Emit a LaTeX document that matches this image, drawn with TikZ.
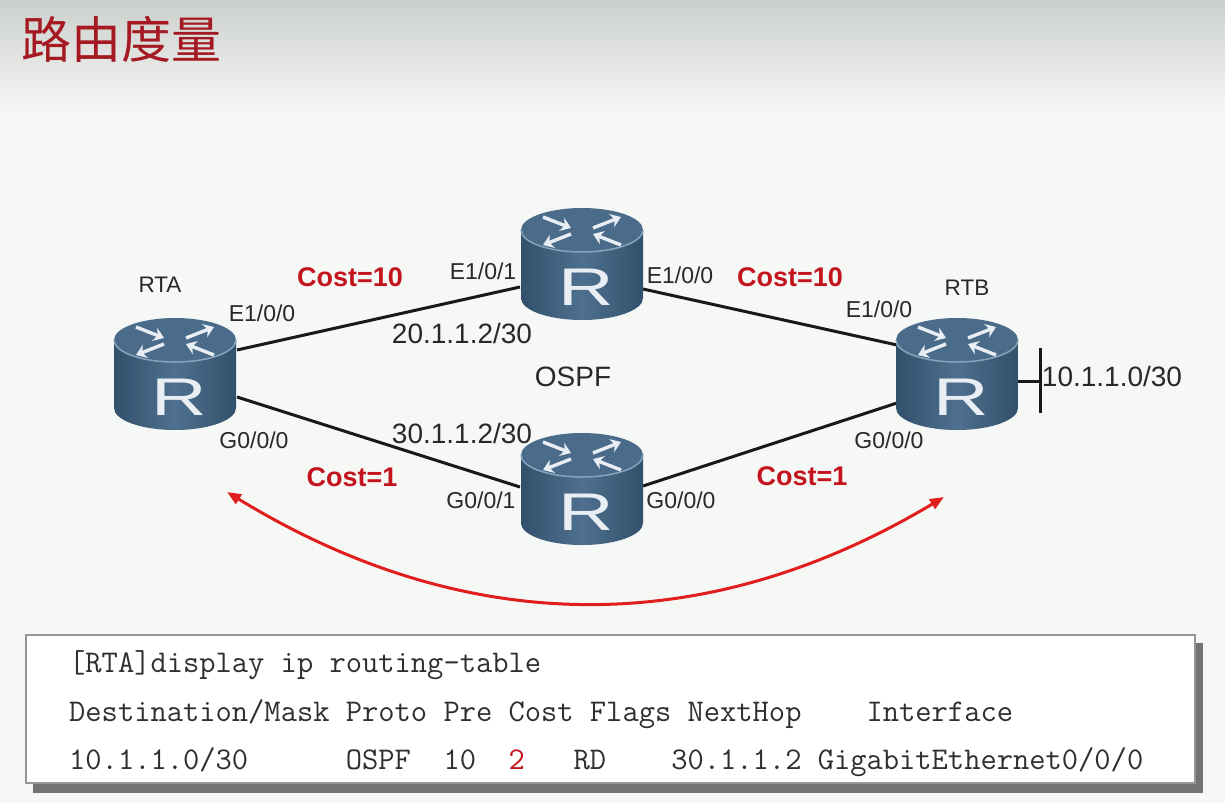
\documentclass[tikz,border=0pt]{standalone}
\usepackage{fontspec}
\setmainfont{Liberation Sans}
\newfontfamily\cjk{Noto Sans CJK SC}
\usetikzlibrary{arrows.meta}
\definecolor{bg}{RGB}{246,248,245}
\definecolor{bgtop}{RGB}{204,208,205}
\definecolor{titlered}{RGB}{165,25,35}
\definecolor{costred}{RGB}{195,20,30}
\definecolor{txt}{RGB}{40,40,40}
\definecolor{rdark}{RGB}{50,80,108}
\definecolor{rmid}{RGB}{78,112,142}
\definecolor{rtop}{RGB}{74,108,138}
\definecolor{rrim}{RGB}{135,163,188}
\definecolor{rwhite}{RGB}{232,238,244}
\definecolor{arrred}{RGB}{225,30,30}
\definecolor{shadowgray}{RGB}{115,115,115}
\definecolor{boxborder}{RGB}{150,150,150}
\definecolor{mono}{RGB}{50,45,50}
\tikzset{
  lbl/.style={inner sep=0, text=txt, font=\fontsize{23}{23}\selectfont},
  hostlbl/.style={inner sep=0, text=txt, font=\fontsize{22.5}{22.5}\selectfont},
  costlbl/.style={inner sep=0, text=costred, font=\fontsize{27}{27}\selectfont\bfseries},
  iplbl/.style={inner sep=0, text=txt, font=\fontsize{28}{28}\selectfont},
  link/.style={line width=3, black!90},
  tline/.style={anchor=base west, inner sep=0, text=mono, font=\ttfamily\fontsize{31.6}{31.6}\selectfont},
  rletter/.style={inner sep=0, anchor=base, text=rwhite, xscale=1.45, font=\fontsize{53}{53}\selectfont},
  redarrow/.style={line width=3, arrred, {Triangle[length=14pt,width=11pt]}-{Triangle[length=14pt,width=11pt]}},
  router/.pic={
    \shade[left color=rdark, right color=rdark, middle color=rmid]
      (-61,-34) -- (-61,34) arc[start angle=180,end angle=0,x radius=61,y radius=22] -- (61,-34) -- cycle;
    \fill[rtop] (0,-34) ellipse[x radius=61,y radius=22];
    \draw[rrim, line width=1.5] (-61,-34) arc[start angle=180,end angle=0,x radius=61,y radius=22];
    \begin{scope}[shift={(0,-33)}, rwhite, line width=3.4, -{Stealth[length=10pt,width=14pt]}]
      \draw (-39,-14) -- (-11,-3);
      \draw (39,14) -- (11,3);
      \draw (11,-3) -- (39,-14);
      \draw (-11,3) -- (-39,14);
    \end{scope}
    \node[rletter] (-r) at (4,41) {R};
  }
}
\begin{document}
\begin{tikzpicture}[x=1pt,y=-1pt]
\useasboundingbox (0,0) rectangle (1225,803);
\fill[bg] (0,0) rectangle (1225,803);
\shade[top color=bgtop, bottom color=bg] (0,0) rectangle (1225,115);

\node[anchor=west, inner sep=0, text=titlered, font=\cjk\fontsize{50}{50}\selectfont] (title) at (21,39) {路由度量};

% connection points
\coordinate (rtaE) at (237,350);
\coordinate (rtaG) at (237,397);
\coordinate (r1W) at (520,287);
\coordinate (r1E) at (643,289);
\coordinate (r2W) at (520,487);
\coordinate (r2E) at (643,486);
\coordinate (rtbE) at (897,345);
\coordinate (rtbG) at (897,403);
\coordinate (rtbS) at (1017,381);
\coordinate (lan) at (1040,381);
\coordinate (lanT) at (1040,348);
\coordinate (lanB) at (1040,413);
\coordinate (arrL) at (227,492);
\coordinate (arrR) at (944,497);

\draw[link] (rtaE) -- (r1W);
\draw[link] (r1E) -- (rtbE);
\draw[link] (rtaG) -- (r2W);
\draw[link] (r2E) -- (rtbG);
\draw[link] (rtbS) -- (lan);
\draw[link] (lanT) -- (lanB);

\pic (rta) at (175,374) {router};
\pic (rone) at (582,264) {router};
\pic (rtwo) at (582,489) {router};
\pic (rtb) at (957,374) {router};

\node[hostlbl] (lblRTA) at (160,285) {RTA};
\node[hostlbl] (lblRTB) at (967,288) {RTB};
\node[lbl] (l1) at (262,313) {E1/0/0};
\node[lbl] (l2) at (254,440) {G0/0/0};
\node[costlbl] (c1) at (350,277) {Cost=10};
\node[lbl] (l3) at (483,271) {E1/0/1};
\node[iplbl] (ip1) at (462,333) {20.1.1.2/30};
\node[iplbl] (ospf) at (573,377) {OSPF};
\node[iplbl] (ip2) at (462,433) {30.1.1.2/30};
\node[lbl] (l4) at (680,275) {E1/0/0};
\node[costlbl] (c2) at (790,277) {Cost=10};
\node[lbl] (l5) at (879,309) {E1/0/0};
\node[iplbl] (net) at (1112,376) {10.1.1.0/30};
\node[lbl] (l6) at (889,440) {G0/0/0};
\node[costlbl] (c3) at (352,477) {Cost=1};
\node[costlbl] (c4) at (802,476) {Cost=1};
\node[lbl] (l7) at (481,500) {G0/0/1};
\node[lbl] (l8) at (681,500) {G0/0/0};

\draw[redarrow] (arrL) .. controls (466,638) and (705,640) .. (arrR);

% routing table box
\fill[shadowgray] (33,643) rectangle (1203,793);
\draw[boxborder, line width=1.2, fill=white] (26,635) rectangle (1195,783);
\node[tline] (t1) at (69,672) {[RTA]display~ip~routing-table};
\node[tline] (t2) at (69,721) {Destination/Mask~Proto~Pre~Cost~Flags~NextHop~~~~Interface};
\node[tline] (t3) at (69,769) {10.1.1.0/30~~~~~~OSPF~~10~~{\color{costred}2}~~~RD~~~~30.1.1.2~GigabitEthernet0/0/0};
\end{tikzpicture}
\end{document}
